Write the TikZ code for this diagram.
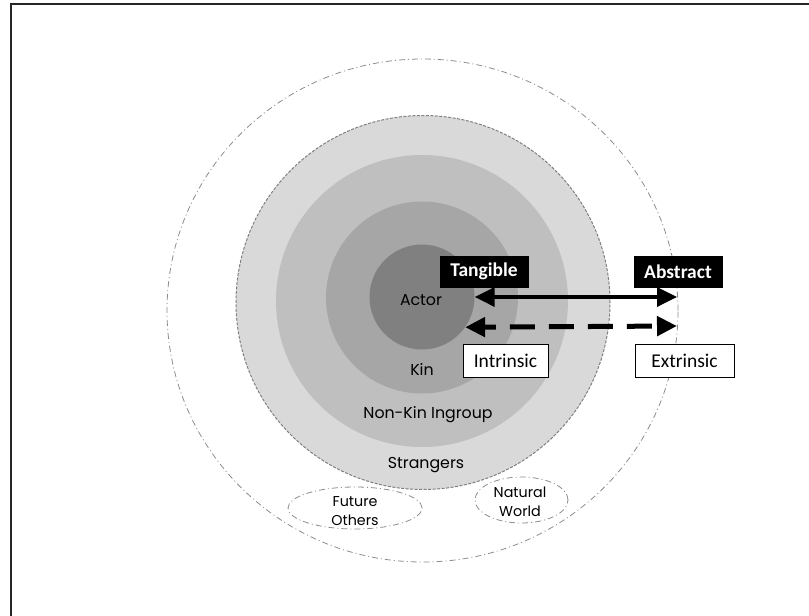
\documentclass[tikz,border=0pt]{standalone}
\usepackage{fontspec}
\setmainfont{Poppins}
\newfontfamily\boxfont{Carlito}
\usepackage{xcolor}
\usetikzlibrary{arrows.meta}
\tikzset{>=Stealth}
\definecolor{strangergray}{HTML}{D9D9D9}
\definecolor{ingroupgray}{HTML}{BFBFBF}
\definecolor{kingray}{HTML}{A6A6A6}
\definecolor{actorgray}{HTML}{808080}
\definecolor{rimgray}{HTML}{8C8C8C}
\tikzset{
  ring/.style={circle, inner sep=0pt, minimum size=#1},
  ringlabel/.style={font=\fontsize{15.8}{18}\selectfont, inner sep=0pt},
  smalllabel/.style={font=\fontsize{14.3}{18.5}\selectfont, align=center, inner sep=0pt},
  darkbox/.style={fill=black, text=white, font=\boxfont\bfseries\fontsize{19.5}{20}\selectfont,
    minimum width=89pt, minimum height=32pt, inner sep=0pt},
  lightbox/.style={fill=white, draw=black, line width=1pt, font=\boxfont\fontsize{19.5}{20}\selectfont,
    minimum height=33pt, inner sep=0pt},
  outerline/.style={rimgray, line width=0.8pt, dash pattern=on 6pt off 3pt on 1pt off 3pt},
}

\begin{document}
\begin{tikzpicture}[x=1pt, y=-1pt]
            \useasboundingbox (0,0) rectangle (809,616);
            % frame, only left and top edges are seen
            \draw[line width=2pt, black!85] (11,616) -- (11,4) -- (809,4);
            % outer boundary of concern
            \draw[outerline] (422.5,310.5) ellipse [x radius=255.5pt, y radius=251.5pt];
            % nested circles
            \node[ring=374pt, fill=strangergray, draw=gray, line width=1pt,
                  dash pattern=on 3pt off 1.5pt] (strangers) at (423,302.5) {};
            \node[ring=292pt, fill=ingroupgray] (ingroup) at (422,301) {};
            \node[ring=192pt, fill=kingray] (kin) at (422,297.5) {};
            \node[ring=105pt, fill=actorgray] (actor) at (422,297) {};
            % circle labels
            \node[ringlabel] (actor label) at (421,300) {Actor};
            \node[ringlabel] (kin label) at (422,369) {Kin};
            \node[ringlabel] (ingroup label) at (428,415) {Non-Kin Ingroup};
            \node[ringlabel] (strangers label) at (426,465) {Strangers};
            % outside the strangers
            \draw[outerline] (355,508) ellipse [x radius=67pt, y radius=21pt];
            \node[smalllabel] (future) at (355,511) {Future\\Others};
            \draw[outerline] (521.5,500) ellipse [x radius=46.5pt, y radius=23pt];
            \node[smalllabel] (natural) at (520,502) {Natural\\World};
            % value boxes
            \node[darkbox] (tangible) at (484,271.5) {Tangible};
            \node[darkbox] (abstract) at (678,271.5) {Abstract};
            \node[lightbox, minimum width=85pt] (intrinsic) at (505.5,360.5) {Intrinsic};
            \node[lightbox, minimum width=99pt] (extrinsic) at (684.5,360.5) {Extrinsic};
            % arrows from the actor out to the rim
            \coordinate (abstract end) at (677,297);
            \coordinate (extrinsic end) at (677,326);
            \draw[{Triangle[length=20pt,width=19pt]}-{Triangle[length=20pt,width=19pt]}, line width=3.5pt]
                (actor.east) -- (abstract end);
            \draw[{Triangle[length=20pt,width=19pt]}-{Triangle[length=20pt,width=19pt]}, line width=5pt,
                dash pattern=on 25pt off 14pt, dash phase=13pt]
                (actor.-35) -- (extrinsic end);
        \end{tikzpicture}
\end{document}
